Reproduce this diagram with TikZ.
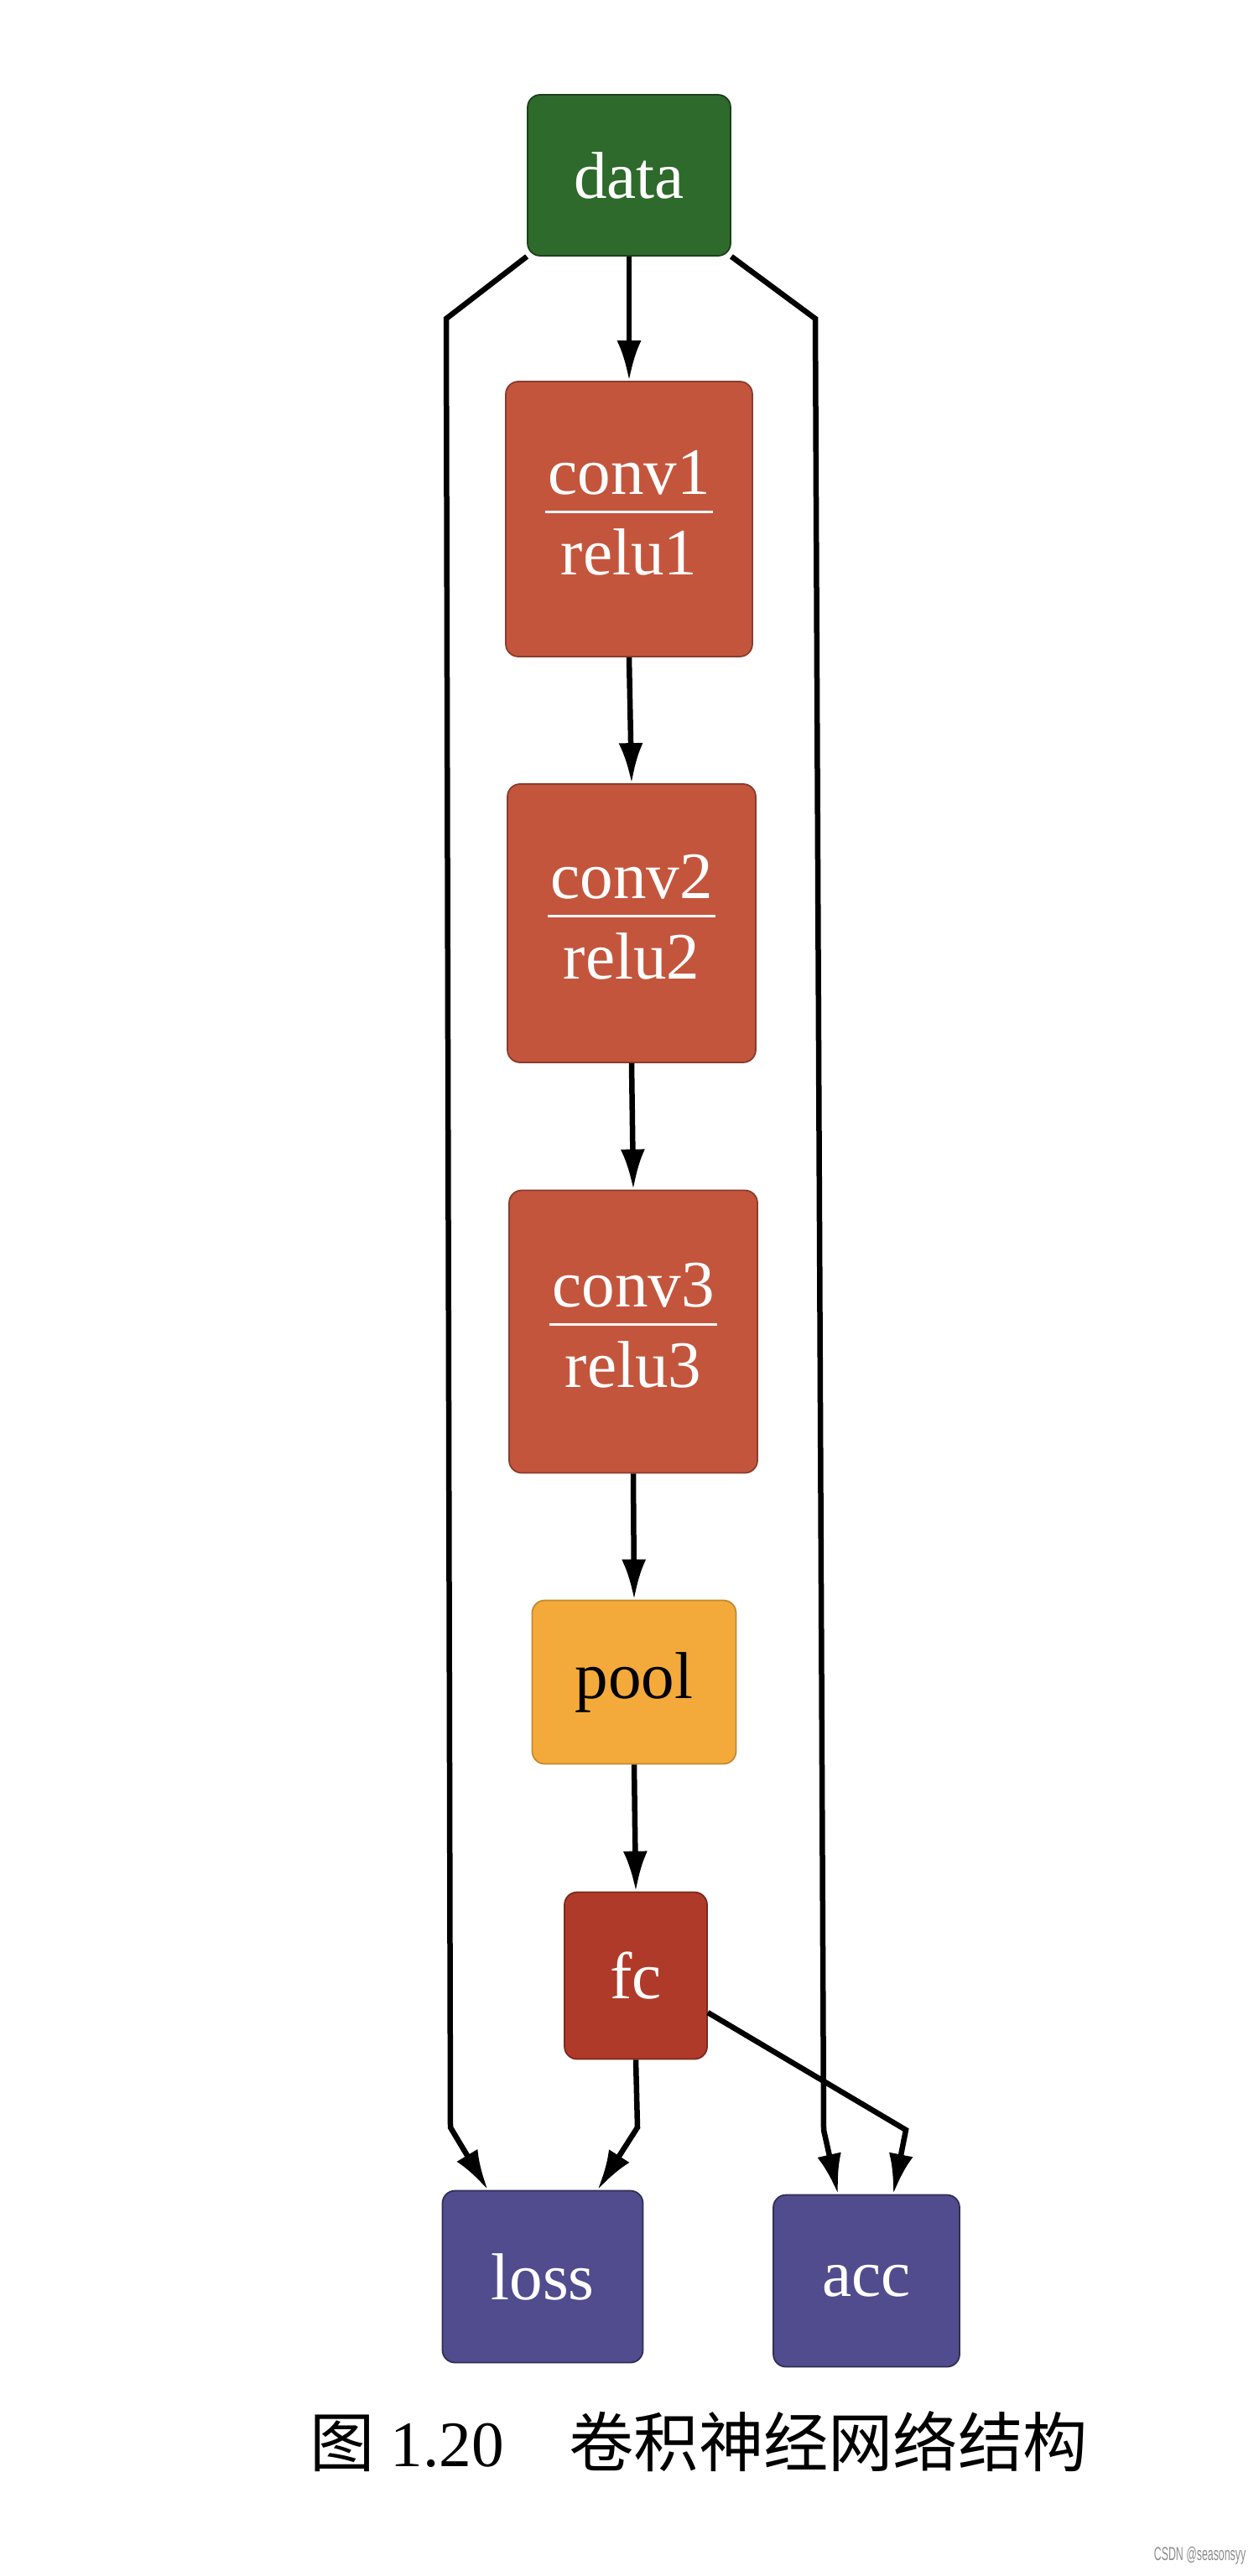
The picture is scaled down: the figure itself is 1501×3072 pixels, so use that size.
\documentclass[tikz,border=0pt]{standalone}
\usepackage{fontspec}
\setmainfont{Liberation Serif}
\newfontfamily\cjk{Noto Sans CJK SC}
\newfontfamily\wmfont{Liberation Sans}
\usepackage{graphicx}
\usetikzlibrary{arrows.meta}
\definecolor{datagreen}{HTML}{2E6A2B}
\definecolor{convred}{HTML}{C4553D}
\definecolor{fcred}{HTML}{B03A2A}
\definecolor{poolorange}{HTML}{F4AA3A}
\definecolor{lossblue}{HTML}{504C8E}
\newcommand{\twolines}[2]{{\setlength{\arrayrulewidth}{0.3mm}%
  \begin{tabular}{@{}c@{}}\makebox[20mm]{#1}\\[-0.7mm]\hline\rule{0pt}{7.3mm}#2\end{tabular}}}
\begin{document}
\begin{tikzpicture}[x=0.1mm,y=-0.1mm,
	box/.style={rectangle,rounded corners=1.5mm,inner sep=0pt,line width=0.5pt,
		text=white,font=\fontsize{22.5}{26}\selectfont},
	edge/.style={line width=0.65mm,-{Latex[length=4.8mm,width=2.9mm]}}]
		\useasboundingbox (0,0) rectangle (1501,3072);
		% nodes
		\node[box,fill=datagreen,draw=datagreen!60!black,minimum width=24.2mm,minimum height=19.2mm] (data) at (750,209) {data};
		\node[box,fill=convred,draw=convred!70!black,minimum width=29.4mm,minimum height=32.8mm] (conv1) at (750,619) {\twolines{conv1}{relu1}};
		\node[box,fill=convred,draw=convred!70!black,minimum width=29.6mm,minimum height=33.2mm] (conv2) at (753,1101) {\twolines{conv2}{relu2}};
		\node[box,fill=convred,draw=convred!70!black,minimum width=29.6mm,minimum height=33.7mm] (conv3) at (755,1588) {\twolines{conv3}{relu3}};
		\node[box,fill=poolorange,draw=poolorange!80!black,text=black,minimum width=24.3mm,minimum height=19.5mm] (pool) at (756,2006) {pool};
		\node[box,fill=fcred,draw=fcred!70!black,minimum width=17mm,minimum height=19.9mm] (fc) at (758,2356) {fc};
		\node[box,fill=lossblue,draw=lossblue!60!black,minimum width=23.9mm,minimum height=20.5mm] (loss) at (647,2715) {loss};
		\node[box,fill=lossblue,draw=lossblue!60!black,minimum width=22.2mm,minimum height=20.5mm] (acc) at (1033,2720) {acc};
		% edges
		\draw[edge] (data.south) -- (conv1.north);
		\draw[edge] (conv1.south) -- (conv2.north);
		\draw[edge] (conv2.south) -- (conv3.north);
		\draw[edge] (conv3.south) -- (pool.north);
		\draw[edge] (pool.south) -- (fc.north);
		\draw[edge] (data.south west) -- (532,380) -- (537,2537) -- ([xshift=5.5mm]loss.north west);
		\draw[edge] (fc.south) -- (760,2537) -- ([xshift=-5.5mm]loss.north east);
		\draw[edge] (data.south east) -- (972,380) -- (982,2540) -- ([xshift=7.8mm]acc.north west);
		\draw[edge] ([yshift=-4.4mm]fc.east) -- (1080,2540) -- ([xshift=-8mm]acc.north east);
		% caption
		\node (caption) at (833,2912) {\fontsize{22}{26}\selectfont{\cjk 图} 1.20\quad{\cjk 卷积神经网络结构}};
		\node[anchor=east,text=black!45,inner sep=0pt] (mark) at (1486,3048) {\scalebox{0.55}[1]{\wmfont\fontsize{6.4}{8}\selectfont CSDN @seasonsyy}};
	\end{tikzpicture}
\end{document}
